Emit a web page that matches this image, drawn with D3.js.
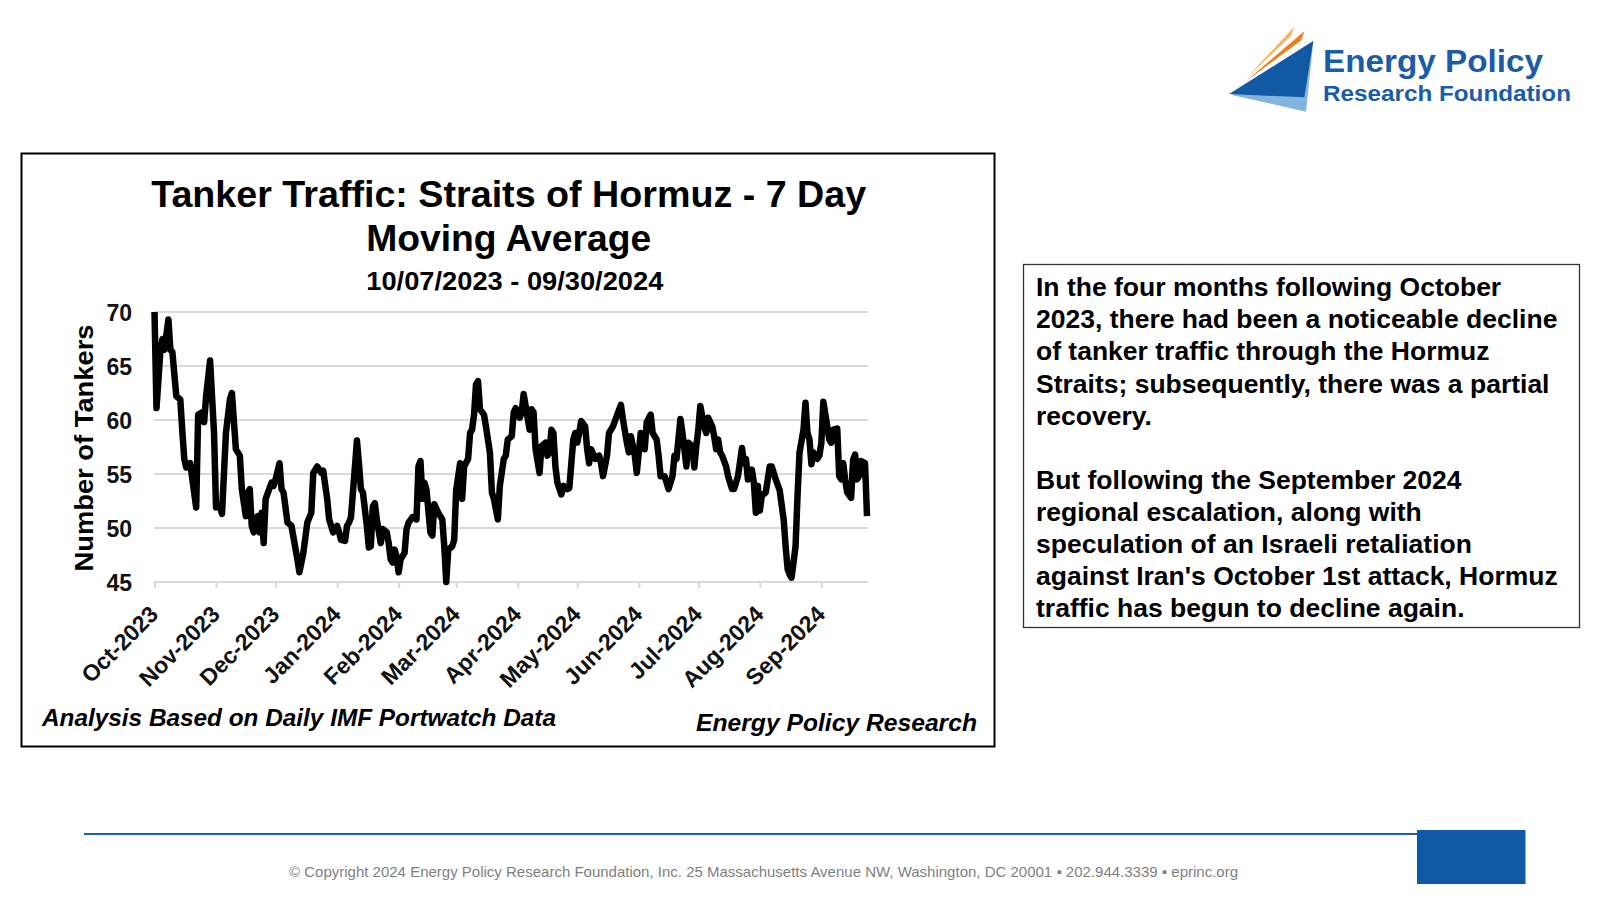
<!DOCTYPE html>
<html>
<head>
<meta charset="utf-8">
<script src="https://cdn.jsdelivr.net/npm/d3@7"></script>
<style>
  body { margin: 0; background: #fff; }
  svg { display: block; }
  text { font-family: "Liberation Sans", Arial, sans-serif; }
</style>
</head>
<body>
<svg id="chart" width="1600" height="900"></svg>
<script>
// ---------------- DATA ----------------
const dates = [
  "2023-10-07","2023-10-08","2023-10-10","2023-10-11","2023-10-12","2023-10-14","2023-10-15","2023-10-16","2023-10-18","2023-10-20","2023-10-21","2023-10-22","2023-10-23","2023-10-25","2023-10-28","2023-10-29","2023-10-31",
  "2023-11-01","2023-11-02","2023-11-04","2023-11-06","2023-11-07","2023-11-09","2023-11-10","2023-11-12","2023-11-14","2023-11-15","2023-11-17","2023-11-19","2023-11-20","2023-11-22","2023-11-23","2023-11-24","2023-11-25","2023-11-26","2023-11-28","2023-11-29","2023-11-30",
  "2023-12-01","2023-12-02","2023-12-05","2023-12-06","2023-12-07","2023-12-09","2023-12-10","2023-12-11","2023-12-13","2023-12-15","2023-12-18","2023-12-19","2023-12-21","2023-12-23","2023-12-25","2023-12-26","2023-12-28","2023-12-30","2023-12-31",
  "2024-01-02","2024-01-03","2024-01-05","2024-01-07","2024-01-08","2024-01-09","2024-01-11","2024-01-12","2024-01-13","2024-01-14","2024-01-16","2024-01-17","2024-01-18","2024-01-19","2024-01-20","2024-01-22","2024-01-23","2024-01-24","2024-01-25","2024-01-26","2024-01-27","2024-01-29","2024-01-30",
  "2024-02-01","2024-02-02","2024-02-03","2024-02-04","2024-02-05","2024-02-06","2024-02-07","2024-02-08","2024-02-10","2024-02-11","2024-02-12","2024-02-14","2024-02-16","2024-02-17","2024-02-18","2024-02-19","2024-02-20","2024-02-21","2024-02-23","2024-02-24","2024-02-25","2024-02-27","2024-02-29",
  "2024-03-01","2024-03-02","2024-03-03","2024-03-05","2024-03-06","2024-03-07","2024-03-09","2024-03-10","2024-03-11","2024-03-13","2024-03-14","2024-03-15","2024-03-16","2024-03-17","2024-03-18","2024-03-19","2024-03-21","2024-03-22","2024-03-24","2024-03-25","2024-03-26","2024-03-28","2024-03-29","2024-03-31",
  "2024-04-01","2024-04-02","2024-04-04","2024-04-05","2024-04-06","2024-04-08","2024-04-09","2024-04-10","2024-04-12","2024-04-13","2024-04-14","2024-04-15","2024-04-16","2024-04-18","2024-04-19","2024-04-21","2024-04-22","2024-04-23","2024-04-24","2024-04-25","2024-04-26","2024-04-27","2024-04-29","2024-04-30",
  "2024-05-02","2024-05-03","2024-05-05","2024-05-06","2024-05-07","2024-05-08","2024-05-09","2024-05-11","2024-05-12","2024-05-13","2024-05-14","2024-05-16","2024-05-18","2024-05-19","2024-05-20","2024-05-22","2024-05-23","2024-05-25","2024-05-27","2024-05-29","2024-05-30",
  "2024-06-01","2024-06-02","2024-06-03","2024-06-05","2024-06-06","2024-06-08","2024-06-09","2024-06-10","2024-06-11","2024-06-13","2024-06-14","2024-06-16","2024-06-17","2024-06-18","2024-06-20","2024-06-22","2024-06-24","2024-06-25","2024-06-26","2024-06-28","2024-06-29",
  "2024-07-01","2024-07-02","2024-07-04","2024-07-05","2024-07-06","2024-07-07","2024-07-08","2024-07-10","2024-07-11","2024-07-12","2024-07-14","2024-07-15","2024-07-16","2024-07-17","2024-07-18","2024-07-19","2024-07-21","2024-07-22","2024-07-24","2024-07-25","2024-07-27","2024-07-29","2024-07-30","2024-07-31",
  "2024-08-01","2024-08-03","2024-08-04","2024-08-05","2024-08-06","2024-08-07","2024-08-08","2024-08-10","2024-08-12","2024-08-13","2024-08-15","2024-08-17","2024-08-19","2024-08-20","2024-08-21","2024-08-22","2024-08-23","2024-08-25","2024-08-26","2024-08-27","2024-08-29","2024-08-30","2024-08-31",
  "2024-09-01","2024-09-02","2024-09-03","2024-09-05","2024-09-06","2024-09-07","2024-09-08","2024-09-10","2024-09-11","2024-09-12","2024-09-13","2024-09-15","2024-09-16","2024-09-17","2024-09-18","2024-09-19","2024-09-20","2024-09-22","2024-09-23","2024-09-24","2024-09-25","2024-09-26","2024-09-27","2024-09-29","2024-09-30"
];
const tankers = [
  70,61.1,66.5,67.5,66.5,69.3,66.5,66.3,62.2,61.9,59.0,56.4,55.6,56.0,51.9,60.5,60.7,
  59.8,62.2,65.5,58.8,51.9,52.0,51.3,58.8,61.9,62.5,57.3,56.7,53.6,51.1,53.3,53.6,50.2,49.6,51.1,49.6,51.4,
  48.6,52.7,54.2,53.9,54.5,56.0,53.6,53.3,50.5,50.2,47.1,45.9,47.7,50.5,51.4,55.1,55.7,55.1,55.3,
  52.7,50.8,49.6,50.2,49.6,48.9,48.8,50.2,50.5,51.0,55.7,58.1,56.0,53.6,53.3,50.2,48.2,48.3,52.0,52.3,50.8,48.6,49.9,
  49.6,48.6,47.1,46.8,48.0,47.3,45.9,47.1,47.7,49.9,50.5,51.0,50.8,55.7,56.2,52.7,54.2,53.6,49.6,49.3,52.2,51.4,50.8,
  48.3,45.0,48.0,48.3,48.9,53.5,56.0,52.7,55.7,56.4,58.8,59.1,60.5,63.3,63.6,61.0,60.5,59.4,57.0,53.3,52.7,50.8,53.9,56.4,
  56.7,58.2,58.5,60.7,61.1,60.2,60.7,62.4,60.2,59.1,61.0,60.7,57.3,55.1,57.6,57.9,56.7,57.0,59.1,58.8,55.7,54.2,53.1,53.9,
  53.6,53.7,58.2,58.8,57.9,58.8,59.9,59.4,57.3,56.0,57.3,56.4,56.7,56.0,54.8,56.7,58.8,59.4,60.4,61.4,60.1,
  57.9,57.0,58.5,56.7,55.1,58.8,58.5,57.3,59.8,60.5,58.8,58.2,56.7,54.8,54.8,53.6,54.8,56.7,56.4,60.1,58.8,
  55.7,57.9,57.6,55.6,57.6,59.1,61.3,59.4,58.8,60.2,59.4,58.5,57.3,58.2,57.0,56.7,55.7,54.8,53.6,53.6,54.8,57.4,56.0,56.4,
  54.5,55.4,54.2,51.4,53.9,51.6,53.0,53.3,55.7,55.7,54.5,53.5,50.8,48.3,46.2,45.7,45.4,48.3,53.0,57.0,59.1,61.6,58.8,
  58.2,55.9,57.0,56.4,56.7,57.9,61.7,59.4,58.2,57.9,59.1,59.2,54.8,54.5,56.0,54.5,53.3,52.8,56.3,56.8,54.5,54.8,56.2,56.0,51.1
];
const yTicks = [45, 50, 55, 60, 65, 70];
const tickDates = ["2023-10-07","2023-11-07","2023-12-07","2024-01-07","2024-02-07","2024-03-07",
                   "2024-04-07","2024-05-07","2024-06-07","2024-07-07","2024-08-07","2024-09-07"];
const tickLabels = ["Oct-2023","Nov-2023","Dec-2023","Jan-2024","Feb-2024","Mar-2024",
                    "Apr-2024","May-2024","Jun-2024","Jul-2024","Aug-2024","Sep-2024"];
const titleLines = ["Tanker Traffic: Straits of Hormuz - 7 Day", "Moving Average"];
const subtitle = "10/07/2023 - 09/30/2024";
const yAxisTitle = "Number of Tankers";
const sourceLeft = "Analysis Based on Daily IMF Portwatch Data";
const sourceRight = "Energy Policy Research";
const para1 = ["In the four months following October",
               "2023, there had been a noticeable decline",
               "of tanker traffic through the Hormuz",
               "Straits; subsequently, there was a partial",
               "recovery."];
const para2 = ["But following the September 2024",
               "regional escalation, along with",
               "speculation of an Israeli retaliation",
               "against Iran's October 1st attack, Hormuz",
               "traffic has begun to decline again."];
const footerText = "\u00A9 Copyright 2024 Energy Policy Research Foundation, Inc. 25 Massachusetts Avenue NW, Washington, DC 20001 \u25AA 202.944.3339 \u25AA eprinc.org";
const logoLines = ["Energy Policy", "Research Foundation"];

// ---------------- DRAW ----------------
const svg = d3.select("#chart");
svg.append("rect").attr("width", 1600).attr("height", 900).attr("fill", "#fff");
const parse = d3.timeParse("%Y-%m-%d");
const series = dates.map((d, i) => ({ date: parse(d), v: tankers[i] }));

const x = d3.scaleTime().domain([parse("2023-10-07"), parse("2024-09-30")]).range([154.5, 867]);
const y = d3.scaleLinear().domain([45, 70]).range([582, 312]);

// chart frame
svg.append("rect").attr("x", 21.5).attr("y", 153.5).attr("width", 973).attr("height", 593)
  .attr("fill", "none").attr("stroke", "#000").attr("stroke-width", 2);

// titles
svg.append("text").attr("x", 508.7).attr("y", 207).attr("text-anchor", "middle")
  .attr("font-size", 37).attr("font-weight", "bold").attr("textLength", 715).attr("lengthAdjust", "spacingAndGlyphs")
  .text(titleLines[0]);
svg.append("text").attr("x", 508.7).attr("y", 251).attr("text-anchor", "middle")
  .attr("font-size", 37).attr("font-weight", "bold").attr("textLength", 285).attr("lengthAdjust", "spacingAndGlyphs")
  .text(titleLines[1]);
svg.append("text").attr("x", 514.8).attr("y", 290).attr("text-anchor", "middle")
  .attr("font-size", 26).attr("font-weight", "bold").attr("textLength", 297).attr("lengthAdjust", "spacingAndGlyphs")
  .text(subtitle);

// gridlines
svg.append("g").selectAll("line").data(yTicks).join("line")
  .attr("x1", 154).attr("x2", 868).attr("y1", d => y(d)).attr("y2", d => y(d))
  .attr("stroke", "#d9d9d9").attr("stroke-width", 2);

// x axis
const xAxis = d3.axisBottom(x)
  .tickValues(tickDates.map(parse))
  .tickFormat((d, i) => tickLabels[i])
  .tickSize(6).tickSizeOuter(0);
const gx = svg.append("g").attr("transform", `translate(0,${y(45)})`).call(xAxis);
gx.select(".domain").attr("stroke", "#d9d9d9").attr("stroke-width", 2).attr("d", "M154,0H868");
gx.selectAll(".tick line").attr("stroke", "#d9d9d9").attr("stroke-width", 2);
gx.selectAll(".tick text")
  .attr("font-size", 23).attr("font-weight", "bold").attr("fill", "#111").attr("font-family", "Liberation Sans, Arial, sans-serif")
  .attr("text-anchor", "end").attr("dominant-baseline", "central")
  .attr("dy", null).attr("y", null)
  .attr("transform", "translate(-1,28) rotate(-45)");

// y axis
const yAxis = d3.axisLeft(y).tickValues(yTicks).tickSize(0).tickPadding(0);
const gy = svg.append("g").attr("transform", "translate(132,0)").call(yAxis);
gy.select(".domain").remove();
gy.selectAll(".tick text").attr("font-size", 23).attr("font-weight", "bold").attr("fill", "#111")
  .attr("font-family", "Liberation Sans, Arial, sans-serif")
  .attr("dy", null).attr("dominant-baseline", "central").attr("y", 0);

svg.append("text").attr("transform", "translate(93,448) rotate(-90)").attr("text-anchor", "middle")
  .attr("font-size", 26).attr("font-weight", "bold").attr("textLength", 247).attr("lengthAdjust", "spacingAndGlyphs")
  .text(yAxisTitle);

// line
svg.append("path").datum(series)
  .attr("fill", "none").attr("stroke", "#000").attr("stroke-width", 6.5)
  .attr("stroke-linejoin", "round")
  .attr("d", d3.line().x(d => x(d.date)).y(d => y(d.v)));

// source notes
svg.append("text").attr("x", 42).attr("y", 726).attr("font-size", 23).attr("font-weight", "bold")
  .attr("font-style", "italic").attr("textLength", 514).attr("lengthAdjust", "spacingAndGlyphs").text(sourceLeft);
svg.append("text").attr("x", 696).attr("y", 731).attr("font-size", 23).attr("font-weight", "bold")
  .attr("font-style", "italic").attr("textLength", 281).attr("lengthAdjust", "spacingAndGlyphs").text(sourceRight);

// text panel
svg.append("rect").attr("x", 1023.5).attr("y", 264.5).attr("width", 556).attr("height", 363)
  .attr("fill", "#fff").attr("stroke", "#333").attr("stroke-width", 1.3);
const p1y = [296, 328, 360, 392.5, 424.5];
const p2y = [488.5, 520.5, 552.5, 584.5, 616.5];
svg.append("g").selectAll("text").data(para1).join("text")
  .attr("x", 1036).attr("y", (d, i) => p1y[i]).attr("font-size", 26.5).attr("font-weight", "bold").text(d => d);
svg.append("g").selectAll("text").data(para2).join("text")
  .attr("x", 1036).attr("y", (d, i) => p2y[i]).attr("font-size", 26.5).attr("font-weight", "bold").text(d => d);

// logo
const logo = svg.append("g");
logo.append("path").attr("d", "M1294.5,26.5 L1291,36 L1246,78.5 Z").attr("fill", "#f7b463");
logo.append("path").attr("d", "M1304.5,31 L1301,40.5 L1245,82 Z").attr("fill", "#f07c1c");
logo.append("path").attr("d", "M1313.3,41 L1306,111.7 L1232,95 Z").attr("fill", "#82b4de");
logo.append("path").attr("d", "M1229,94 L1313.3,41 L1304.3,97.3 Z").attr("fill", "#1259a3");
logo.append("text").attr("x", 1323).attr("y", 72).attr("font-family", "Lato, sans-serif").attr("font-weight", 900)
  .attr("font-size", 32).attr("fill", "#1a5ca8").attr("textLength", 220).attr("lengthAdjust", "spacingAndGlyphs").text(logoLines[0]);
logo.append("text").attr("x", 1323).attr("y", 101).attr("font-family", "Lato, sans-serif").attr("font-weight", 900)
  .attr("font-size", 22).attr("fill", "#1a5ca8").attr("textLength", 248).attr("lengthAdjust", "spacingAndGlyphs").text(logoLines[1]);

// footer
svg.append("line").attr("x1", 84).attr("x2", 1418).attr("y1", 834).attr("y2", 834)
  .attr("stroke", "#1f5fa8").attr("stroke-width", 2);
svg.append("rect").attr("x", 1417).attr("y", 830).attr("width", 108.5).attr("height", 54).attr("fill", "#1158a7");
svg.append("text").attr("x", 289).attr("y", 877).attr("font-size", 15).attr("fill", "#7f7f7f")
  .attr("textLength", 949).attr("lengthAdjust", "spacingAndGlyphs").text(footerText);

if (dates.length !== tankers.length) console.error("length mismatch", dates.length, tankers.length);
</script>
</body>
</html>
